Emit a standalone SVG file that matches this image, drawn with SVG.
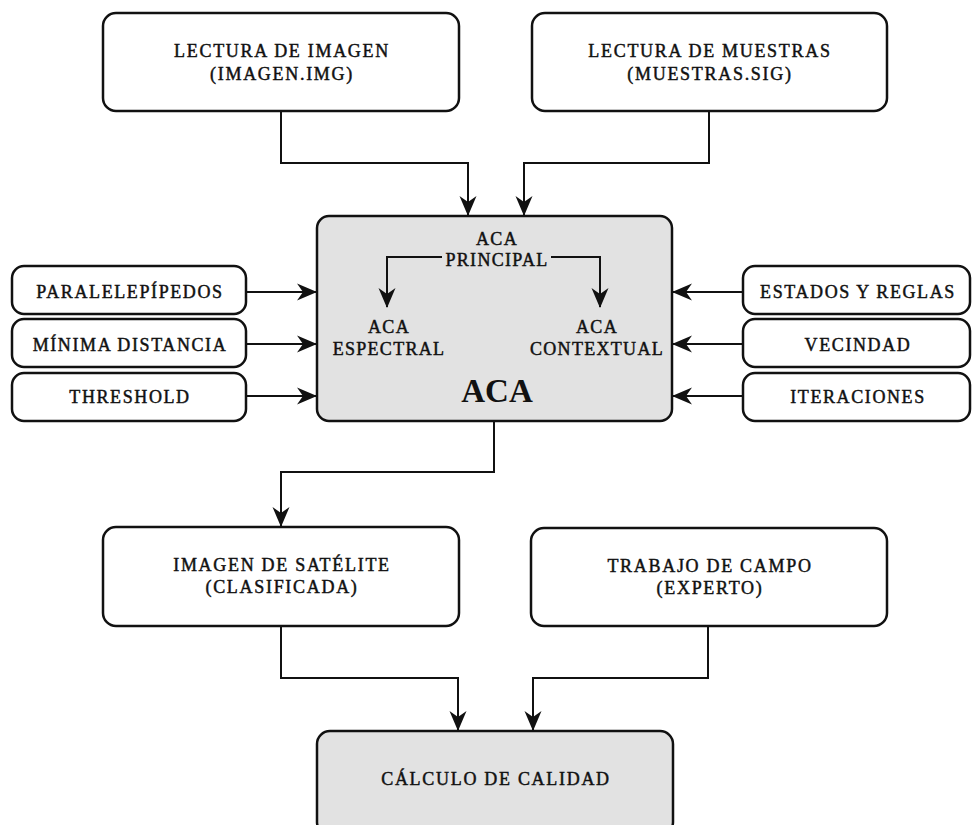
<svg xmlns="http://www.w3.org/2000/svg" width="972" height="825" viewBox="0 0 972 825">
<style>
.box{fill:#ffffff;stroke:#111111;stroke-width:2.5}
.gray{fill:#e2e2e2;stroke:#111111;stroke-width:2.5}
.t,.s,.i{font-family:"Liberation Serif","Times New Roman",serif;font-size:18px;fill:#111111;stroke:#111111;stroke-width:0.45px;text-anchor:middle}
.t{letter-spacing:1.7px}
.s{letter-spacing:1.6px}
.i{letter-spacing:1.3px}
.big{font-family:"Liberation Serif","Times New Roman",serif;font-size:33px;font-weight:bold;fill:#111111;text-anchor:middle}
.c{fill:none;stroke:#111111;stroke-width:2;marker-end:url(#arr)}
</style>
<defs>
<marker id="arr" markerUnits="userSpaceOnUse" viewBox="0 0 20 20" markerWidth="20" markerHeight="20" refX="19" refY="10" orient="auto">
<path d="M20,10 L0,1.5 L6,10 L0,18.5 Z" fill="#111111"/>
</marker>
</defs>
<g id="connectors">
<path class="c" d="M281,111 V163 H468 V215"/>
<path class="c" d="M709,111 V163 H524 V215"/>
<path class="c" d="M494,421 V472 H281 V526"/>
<path class="c" d="M281,626 V678 H458 V730"/>
<path class="c" d="M708,626 V678 H533 V730"/>
<path class="c" d="M246,292 H316"/>
<path class="c" d="M246,344 H316"/>
<path class="c" d="M246,396 H316"/>
<path class="c" d="M743,292 H673"/>
<path class="c" d="M743,344 H673"/>
<path class="c" d="M743,396 H673"/>
</g>
<g id="lectura-imagen">
<rect class="box" x="103" y="13" width="356" height="98" rx="13"/>
<text class="t" x="282" y="57">LECTURA DE IMAGEN</text>
<text class="t" x="282" y="80">(IMAGEN.IMG)</text>
</g>
<g id="lectura-muestras">
<rect class="box" x="532" y="13" width="355" height="98" rx="13"/>
<text class="t" x="710" y="57">LECTURA DE MUESTRAS</text>
<text class="t" x="710" y="80">(MUESTRAS.SIG)</text>
</g>
<g id="aca">
<rect class="gray" x="317" y="216" width="355" height="205" rx="12"/>
<text class="i" x="497" y="245">ACA</text>
<text class="i" x="497" y="266">PRINCIPAL</text>
<path class="c" d="M442,257 H387 V307"/>
<path class="c" d="M551,257 H600 V307"/>
<text class="i" x="389" y="333">ACA</text>
<text class="i" x="389" y="355">ESPECTRAL</text>
<text class="i" x="597" y="333">ACA</text>
<text class="i" x="597" y="355">CONTEXTUAL</text>
<text class="big" x="497" y="402">ACA</text>
</g>
<g id="paralelepipedos">
<rect class="box" x="12" y="266" width="234" height="48" rx="12"/>
<text class="s" x="130" y="298">PARALELEPÍPEDOS</text>
</g>
<g id="minima-distancia">
<rect class="box" x="12" y="319" width="234" height="48" rx="12"/>
<text class="s" x="130" y="351">MÍNIMA DISTANCIA</text>
</g>
<g id="threshold">
<rect class="box" x="12" y="373" width="234" height="48" rx="12"/>
<text class="s" x="130" y="403">THRESHOLD</text>
</g>
<g id="estados-reglas">
<rect class="box" x="743" y="266" width="227" height="48" rx="12"/>
<text class="s" x="858" y="298">ESTADOS Y REGLAS</text>
</g>
<g id="vecindad">
<rect class="box" x="743" y="319" width="227" height="48" rx="12"/>
<text class="s" x="858" y="351">VECINDAD</text>
</g>
<g id="iteraciones">
<rect class="box" x="743" y="373" width="227" height="48" rx="12"/>
<text class="s" x="858" y="403">ITERACIONES</text>
</g>
<g id="imagen-satelite">
<rect class="box" x="103" y="527" width="356" height="99" rx="13"/>
<text class="t" x="282" y="571">IMAGEN DE SATÉLITE</text>
<text class="t" x="282" y="593">(CLASIFICADA)</text>
</g>
<g id="trabajo-campo">
<rect class="box" x="531" y="528" width="356" height="98" rx="13"/>
<text class="t" x="710" y="572">TRABAJO DE CAMPO</text>
<text class="t" x="710" y="594">(EXPERTO)</text>
</g>
<g id="calculo-calidad">
<rect class="gray" x="317" y="731" width="356" height="104" rx="13"/>
<text class="t" x="496" y="785">CÁLCULO DE CALIDAD</text>
</g>
</svg>
